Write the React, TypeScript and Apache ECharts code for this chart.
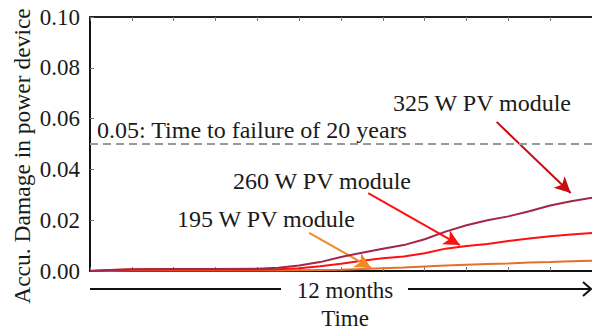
import React, { useEffect, useRef } from "react";
import * as echarts from "echarts";

const months = [0, 0.5, 1, 2, 3, 4, 4.5, 5, 5.5, 6, 6.5, 7, 7.5, 8, 8.5, 9, 9.5, 10, 10.5, 11, 11.5, 12];
const pv325 = [0, 0.0004, 0.0007, 0.0008, 0.0008, 0.0009, 0.0013, 0.0022, 0.0035, 0.0055, 0.0072, 0.0088, 0.0102, 0.0125, 0.0155, 0.018, 0.02, 0.0215, 0.0235, 0.0258, 0.0275, 0.0288];
const pv260 = [0, 0.0004, 0.0006, 0.0006, 0.0006, 0.0006, 0.0007, 0.0011, 0.0019, 0.0029, 0.004, 0.005, 0.0057, 0.007, 0.0088, 0.0098, 0.0106, 0.0118, 0.0128, 0.0137, 0.0144, 0.015];
const pv195 = [0, 0.0001, 0.0002, 0.0002, 0.0002, 0.0002, 0.0002, 0.0003, 0.0004, 0.0005, 0.0008, 0.0011, 0.0014, 0.0018, 0.0022, 0.0025, 0.0028, 0.003, 0.0033, 0.0035, 0.0038, 0.004];
const yTicks = [0, 0.02, 0.04, 0.06, 0.08, 0.1];
const seriesNames = ["325 W PV module", "260 W PV module", "195 W PV module"];
const failureLevel = 0.05;
const failureLabel = "0.05: Time to failure of 20 years";
const yAxisName = "Accu. Damage in power device";
const xAxisName = "Time";
const spanLabel = "12 months";
// arrows: [fromMonth, fromValue, toMonth, toValue]
const arrow325 = [9.72, 0.0587, 11.49, 0.0307];
const arrow260 = [6.65, 0.0307, 8.84, 0.0102];
const arrow195 = [5.24, 0.015, 6.72, 0.0012];

const FONT = "Liberation Serif";

export default function App() {
  const ref = useRef<HTMLDivElement>(null);
  useEffect(() => {
    if (!ref.current) return;
    const theme = {
      textStyle: { fontFamily: FONT },
      valueAxis: { axisLabel: { fontFamily: FONT } },
    };
    const chart = echarts.init(ref.current, theme as any, { renderer: "svg" });
    const mk = (vals: number[]) => months.map((m, i) => [m, vals[i]]);
    const arrowLine = (a: number[], color: string) => ({
      silent: true,
      symbol: ["none", "arrow"],
      symbolSize: [12, 16],
      label: { show: false },
      lineStyle: { color, width: 2, type: "solid" },
      data: [[{ coord: [a[0], a[1]] }, { coord: [a[2], a[3]] }]],
    });
    chart.setOption({
      animation: false,
      textStyle: { fontFamily: FONT },
      grid: { left: 90, top: 17, right: -7, bottom: 61 },
      xAxis: [
        {
          type: "value", min: 0, max: 12, interval: 1,
          axisLine: { show: true, lineStyle: { color: "#111", width: 2 } },
          axisTick: { show: true, inside: true, length: 4, lineStyle: { color: "#777" } },
          axisLabel: { show: false },
          splitLine: { show: false },
        },
        {
          type: "value", min: 0, max: 12, interval: 1, position: "top",
          axisLine: { show: true, lineStyle: { color: "#222", width: 2 } },
          axisTick: { show: true, inside: true, length: 4, lineStyle: { color: "#777" } },
          axisLabel: { show: false },
          splitLine: { show: false },
        },
      ],
      yAxis: {
        type: "value", min: yTicks[0], max: yTicks[yTicks.length - 1], interval: 0.02,
        axisLine: { show: true, lineStyle: { color: "#111", width: 2 } },
        axisTick: { show: true, inside: true, length: 4, lineStyle: { color: "#777" } },
        axisLabel: {
          fontFamily: FONT, fontSize: 23, color: "#1a1a1a", margin: 10,
          textStyle: { fontFamily: FONT, fontSize: 23, color: "#1a1a1a" },
          formatter: (v: number) => v.toFixed(2),
        },
        splitLine: { show: false },
      },
      series: [
        {
          name: seriesNames[2], type: "line", data: mk(pv195), showSymbol: false,
          lineStyle: { color: "#e5702a", width: 2 }, z: 3,
          markLine: arrowLine(arrow195, "#f08a24"),
        },
        {
          name: seriesNames[1], type: "line", data: mk(pv260), showSymbol: false,
          lineStyle: { color: "#ff1010", width: 2 }, z: 4,
          markLine: arrowLine(arrow260, "#ff1010"),
        },
        {
          name: seriesNames[0], type: "line", data: mk(pv325), showSymbol: false,
          lineStyle: { color: "#a2264a", width: 2 }, z: 5,
          markLine: arrowLine(arrow325, "#c80c10"),
        },
        {
          name: "failure", type: "line", data: [],
          markLine: {
            silent: true, symbol: ["none", "none"], label: { show: false },
            lineStyle: { color: "#9a9a9a", width: 2, type: [8, 5] },
            data: [{ yAxis: failureLevel }],
          },
        },
      ],
      graphic: [
        {
          type: "text", x: 22, y: 156, rotation: Math.PI / 2,
          style: { text: yAxisName, font: `23.5px ${FONT}`, fill: "#1a1a1a", align: "center", verticalAlign: "middle" },
        },
        { type: "text", x: 97, y: 130, style: { text: failureLabel, font: `24px ${FONT}`, fill: "#1a1a1a", verticalAlign: "middle" } },
        { type: "text", x: 393, y: 103, style: { text: seriesNames[0], font: `24px ${FONT}`, fill: "#1a1a1a", verticalAlign: "middle" } },
        { type: "text", x: 233, y: 181, style: { text: seriesNames[1], font: `24px ${FONT}`, fill: "#1a1a1a", verticalAlign: "middle" } },
        { type: "text", x: 177, y: 219, style: { text: seriesNames[2], font: `24px ${FONT}`, fill: "#1a1a1a", verticalAlign: "middle" } },
        { type: "line", shape: { x1: 90, y1: 289, x2: 281, y2: 289 }, style: { stroke: "#111", lineWidth: 2 } },
        { type: "line", shape: { x1: 408, y1: 289, x2: 591, y2: 289 }, style: { stroke: "#111", lineWidth: 2 } },
        { type: "polyline", shape: { points: [[583, 282], [591, 289], [583, 296]] }, style: { stroke: "#111", lineWidth: 2, fill: null } },
        { type: "text", x: 345, y: 290, style: { text: spanLabel, font: `23px ${FONT}`, fill: "#1a1a1a", align: "center", verticalAlign: "middle" } },
        { type: "text", x: 345, y: 318, style: { text: xAxisName, font: `23px ${FONT}`, fill: "#1a1a1a", align: "center", verticalAlign: "middle" } },
      ],
    });
    return () => chart.dispose();
  }, []);
  return <div ref={ref} style={{ position: "absolute", left: 0, top: 0, width: 592, height: 332, background: "#fff" }} />;
}
